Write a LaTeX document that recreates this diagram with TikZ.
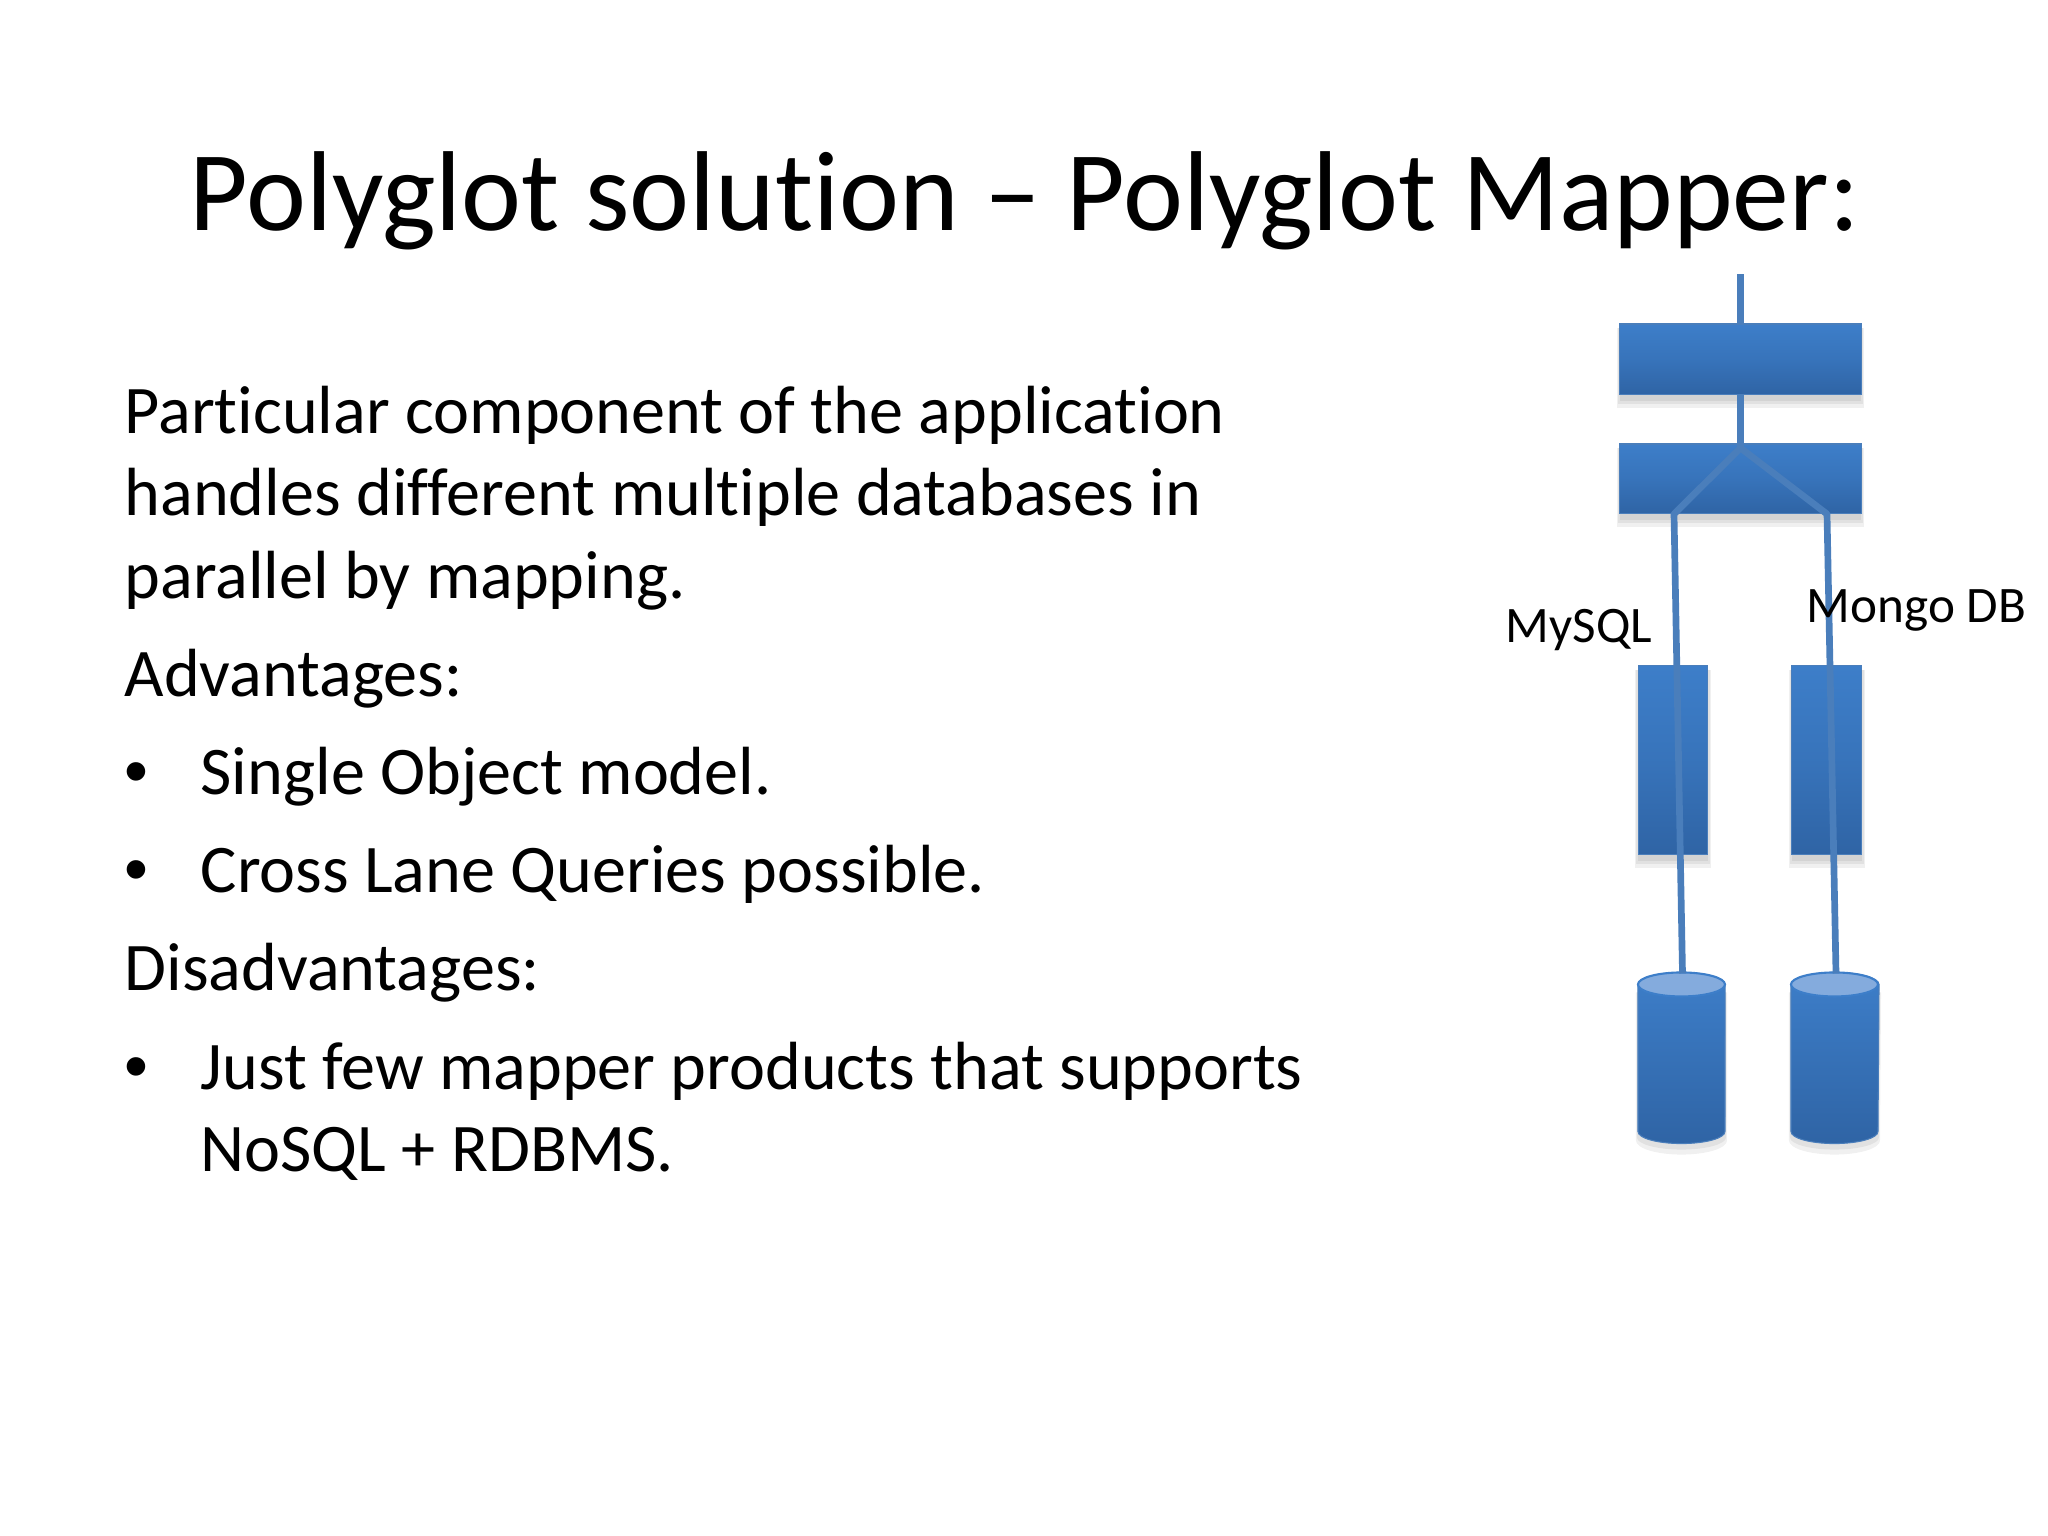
\documentclass[tikz,border=0pt]{standalone}
\usepackage{fontspec}
\setmainfont[Ligatures=NoCommon]{Carlito}
\newfontfamily\bulletfont{Liberation Sans}
\usetikzlibrary{calc}
\definecolor{linkblue}{HTML}{4A7EBB}
\definecolor{boxtop}{HTML}{3D7EC9}
\definecolor{boxbot}{HTML}{2F64A5}
\definecolor{captop}{HTML}{84ABDD}
\tikzset{
  x=0.01cm,y=-0.01cm,
  titletext/.style={anchor=base,inner sep=0pt,font=\fontsize{32.3}{38}\selectfont,text=black},
  bodytext/.style={anchor=base west,inner sep=0pt,font=\fontsize{19.38}{23}\selectfont,text=black},
  bullettext/.style={anchor=base west,inner sep=0pt,font=\bulletfont\fontsize{19.4}{23}\selectfont,text=black},
  labeltext/.style={anchor=base west,inner sep=0pt,font=\fontsize{14.55}{17}\selectfont,text=black},
  box/.style={rectangle,inner sep=0pt,outer sep=0pt,draw=linkblue,line width=0.3pt,top color=boxtop,bottom color=boxbot,middle color=boxtop!60!boxbot},
  ghost/.style={rectangle,inner sep=0pt,outer sep=0pt},
  link/.style={draw=linkblue,line width=1.9pt,line join=round},
  softshadow/.style={fill=black,opacity=0.06,draw=none}
}
\newcommand{\shadowbox}[1]{%
  \path[softshadow] ($(#1.north west)+(-3,4)$) rectangle ($(#1.south east)+(3,14)$);
  \path[softshadow] ($(#1.north west)+(-2,4)$) rectangle ($(#1.south east)+(2,10)$);
  \path[softshadow] ($(#1.north west)+(0,4)$) rectangle ($(#1.south east)+(0,7)$);
}
\newcommand{\drumshape}[1]{%
  \path[softshadow] ($(#1.north west)+(-2,20)$) -- ($(#1.south west)+(-2,-3)$) arc[start angle=180,end angle=360,x radius=45.5,y radius=-14] -- ($(#1.north east)+(2,20)$) -- cycle;
  \path[softshadow] ($(#1.north west)+(-1,20)$) -- ($(#1.south west)+(-1,-6)$) arc[start angle=180,end angle=360,x radius=44.5,y radius=-12] -- ($(#1.north east)+(1,20)$) -- cycle;
  \path[top color=boxtop,bottom color=boxbot,draw=linkblue,line width=0.3pt]
    ($(#1.north west)+(0,12)$) -- ($(#1.south west)+(0,-12)$)
    arc[start angle=180,end angle=360,x radius=43.5,y radius=-12]
    -- ($(#1.north east)+(0,12)$)
    arc[start angle=0,end angle=180,x radius=43.5,y radius=-12] -- cycle;
  \path[fill=captop,draw=boxtop,line width=0.6pt]
    ($(#1.north west)+(43.5,12)$) ellipse[x radius=43.5,y radius=12];
}
\begin{document}
\begin{tikzpicture}
\useasboundingbox (0,0) rectangle (2048,1536);
\fill[white] (0,0) rectangle (2048,1536);

\node[titletext] (title) at (1025,230) {Polyglot solution – Polyglot Mapper:};

\node[bodytext] (l1) at (124,433) {Particular component of the application};
\node[bodytext] (l2) at (124,515) {handles different multiple databases in};
\node[bodytext] (l3) at (124,598) {parallel by mapping.};
\node[bodytext] (l4) at (124,696) {Advantages:};
\node[bullettext] (b1) at (124,794) {•};
\node[bodytext] (l5) at (200,794) {Single Object model.};
\node[bullettext] (b2) at (124,892) {•};
\node[bodytext] (l6) at (200,892) {Cross Lane Queries possible.};
\node[bodytext] (l7) at (124,990) {Disadvantages:};
\node[bullettext] (b3) at (124,1089) {•};
\node[bodytext] (l8) at (200,1089) {Just few mapper products that supports};
\node[bodytext] (l9) at (200,1171) {NoSQL + RDBMS.};

% anchors for the shapes (positions in picture pixels)
\node[ghost,minimum width=2.41cm,minimum height=0.70cm] (mapper) at (1740.5,359) {};
\node[ghost,minimum width=2.41cm,minimum height=0.69cm] (router) at (1740.5,478.5) {};
\node[ghost,minimum width=0.69cm,minimum height=1.88cm] (laneA) at (1673,760) {};
\node[ghost,minimum width=0.70cm,minimum height=1.88cm] (laneB) at (1826.5,760) {};
\node[ghost,minimum width=0.87cm,minimum height=1.71cm] (dbA) at (1681.5,1058) {};
\node[ghost,minimum width=0.88cm,minimum height=1.71cm] (dbB) at (1835,1058) {};

\shadowbox{mapper}\shadowbox{router}\shadowbox{laneA}\shadowbox{laneB}
\node[box,minimum width=2.41cm,minimum height=0.70cm] at (mapper) {};
\node[box,minimum width=2.41cm,minimum height=0.69cm] at (router) {};
\node[box,minimum width=0.69cm,minimum height=1.88cm] at (laneA) {};
\node[box,minimum width=0.70cm,minimum height=1.88cm] at (laneB) {};
\drumshape{dbA}\drumshape{dbB}

\coordinate (entry) at (mapper.north |- 0,274);
\coordinate (apex) at ($(router.north)+(0,4)$);
\coordinate (bendA) at (1674,514);
\coordinate (bendB) at (1827,514);
\draw[link] (entry) -- (mapper.north);
\draw[link] (mapper.south) -- (apex);
\draw[link] (apex) -- (bendA) -- ($(dbA.north)+(1,1)$);
\draw[link] (apex) -- (bendB) -- ($(dbB.north)+(1,1)$);

\node[labeltext] (mysql) at (1505,642) {MySQL};
\node[labeltext] (mongo) at (1806,622) {Mongo DB};
\end{tikzpicture}
\end{document}
